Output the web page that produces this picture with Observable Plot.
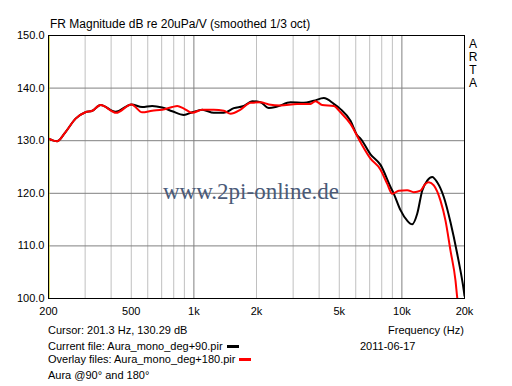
<!DOCTYPE html>
<html><head><meta charset="utf-8">
<script src="https://cdn.jsdelivr.net/npm/d3@7"></script>
<script src="https://cdn.jsdelivr.net/npm/@observablehq/plot@0.6"></script>
<style>
body{margin:0;background:#fff;}
#wrap{position:relative;width:512px;height:386px;overflow:hidden;font-family:"Liberation Sans",Arial,sans-serif;color:#000;background:#fff;}
#wrap svg{position:absolute;left:0;top:0;}
.t{position:absolute;white-space:nowrap;font-size:11px;line-height:11px;}
.dash{display:inline-block;width:12px;height:3px;margin-left:4px;vertical-align:2px;}
</style></head><body><div id="wrap"></div>
<script>
// Current file (black): +90 deg
const freqBlack = [200,220,241,270,301,325,356,420,501,564,630,704,787,895,982,1097,1246,1393,1556,1738,1907,2090,2292,2516,2916,3376,3772,4214,4706,5068,5662,6098,6325,7066,7894,8818,9146,9848,10608,11210,11848,12522,13236,13988,14784,15904,17128,18450,19844,20000];
const dbBlack   = [130.4,129.9,131.6,134.2,135.4,135.7,136.8,135.5,136.9,136.4,136.6,136.3,135.6,134.9,135.4,135.9,135.3,135.3,136.2,136.6,137.5,137.3,136.2,136.5,137.3,137.2,137.6,138.1,137.0,136.0,133.8,131.0,130.4,127.4,125.4,121.2,119.9,116.8,114.8,114.1,116.1,120.5,122.4,123.1,122.1,119.3,114.5,108.5,101.5,100.5];
// Overlay file (red): +180 deg
const freqRed = [200,220,241,270,301,325,356,423,501,564,630,704,787,832,895,982,1097,1246,1393,1500,1676,1872,2090,2292,2610,3138,3636,3844,4140,4706,5068,5662,6325,7066,7894,8502,8986,9664,10608,11410,12290,12988,13472,14238,15332,16206,17128,18104,18450,19000];
const dbRed   = [130.4,129.9,131.6,134.2,135.4,135.7,136.8,135.3,136.9,135.4,135.7,135.9,136.4,136.6,136.1,135.3,135.9,135.9,135.7,135.1,135.9,137.2,137.3,136.9,136.7,137.0,137.0,137.5,136.8,136.6,135.4,133.2,129.7,126.6,124.5,121.8,119.9,120.5,120.6,120.2,120.5,121.8,122.1,121.5,118.6,114.8,109.1,103.4,100.2,96.5];

const xTickValues = [200,500,1000,2000,5000,10000,20000];
const xTickLabels = ["200","500","1k","2k","5k","10k","20k"];
const yTickValues = [100,110,120,130,140,150];
const yTickLabels = ["100.0","110.0","120.0","130.0","140.0","150.0"];
const minorFreqs = [300,400,500,600,700,800,900,2000,3000,4000,5000,6000,7000,8000,9000];
const majorFreqs = [1000,10000];
const gridDb = [110,120,130,140];
const cursorFreq = 201.3;

const black = freqBlack.map((f,i)=>({f, db: dbBlack[i]}));
const red = freqRed.map((f,i)=>({f, db: dbRed[i]}));

const chart = Plot.plot({
  width: 512, height: 320,
  marginLeft: 48, marginRight: 48, marginTop: 35, marginBottom: 22,
  style: {fontFamily: "'Liberation Sans', Arial, sans-serif", fontSize: "11px", background: "transparent", color: "black"},
  x: {type: "log", domain: [200, 20000], ticks: xTickValues, tickFormat: d => xTickLabels[xTickValues.indexOf(d)], tickSize: 0, tickPadding: 9, label: null},
  y: {domain: [100, 150], ticks: yTickValues, tickFormat: d => yTickLabels[yTickValues.indexOf(d)], tickSize: 0, tickPadding: 4, label: null},
  marks: [
    Plot.ruleX(minorFreqs, {stroke: "#c0c0c0"}),
    Plot.ruleX(majorFreqs, {stroke: "#808080"}),
    Plot.ruleY(gridDb, {stroke: "#808080"}),
    Plot.ruleX([cursorFreq], {stroke: "#c8c800"}),
    Plot.line(black, {x: "f", y: "db", stroke: "black", strokeWidth: 2, curve: "monotone-x", clip: true}),
    Plot.line(red, {x: "f", y: "db", stroke: "#ff0000", strokeWidth: 2, curve: "monotone-x", clip: true}),
    Plot.frame({stroke: "black"})
  ]
});
const wrap = document.getElementById("wrap");
wrap.appendChild(chart);

function addText(html, left, top, extra) {
  const d = document.createElement("div");
  d.className = "t";
  d.style.left = left + "px";
  d.style.top = top + "px";
  if (extra) Object.assign(d.style, extra);
  d.innerHTML = html;
  wrap.appendChild(d);
  return d;
}
addText("FR Magnitude dB re 20uPa/V (smoothed 1/3 oct)", 50, 18, {fontSize: "12px", lineHeight: "12px"});
["A","R","T","A"].forEach((c,i) => addText(c, 468, 38 + i*13, {fontSize: "12px", lineHeight: "12px", width: "10px", textAlign: "center"}));
addText("www.2pi-online.de", 163, 180, {fontFamily: "'Liberation Serif', 'Times New Roman', serif", fontSize: "23px", lineHeight: "23px", color: "#4a5a78"});
addText("Cursor: 201.3 Hz, 130.29 dB", 48, 325);
addText("Frequency (Hz)", 388, 325);
addText("Current file: Aura_mono_deg+90.pir<span class='dash' style='background:#000'></span>", 48, 341);
addText("2011-06-17", 360, 341);
addText("Overlay files: Aura_mono_deg+180.pir<span class='dash' style='background:#ff0000'></span>", 48, 354);
addText("Aura @90° and 180°", 48, 370);
</script>
</body></html>
